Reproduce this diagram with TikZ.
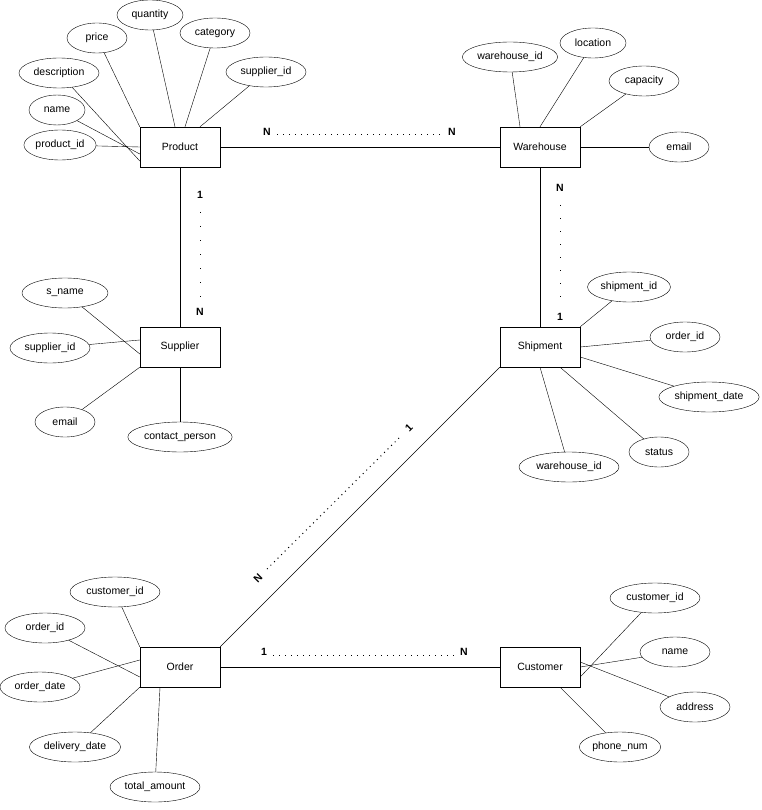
\documentclass[tikz,border=0pt]{standalone}
\usepackage{fontspec}
\setmainfont{Liberation Sans}
\usetikzlibrary{shapes.geometric}
\begin{document}
\begin{tikzpicture}[x=1pt,y=-1pt,font=\fontsize{10.5}{12}\selectfont,
 ent/.style={draw,fill=white,minimum width=80pt,minimum height=40pt,inner sep=0},
 att/.style={draw,ellipse,fill=white,minimum height=30pt,inner sep=1pt},
 card/.style={font=\fontsize{10.5}{12}\selectfont\bfseries},
 dots/.style={dotted,line width=1pt}]
\useasboundingbox (0,0) rectangle (761,810);
% entities
\node[ent] (P) at (180,147) {Product};
\node[ent] (W) at (540,147) {Warehouse};
\node[ent] (S) at (180,347) {Supplier};
\node[ent] (Sh) at (540,347) {Shipment};
\node[ent] (O) at (180,667) {Order};
\node[ent] (C) at (540,667) {Customer};
% relationships
\draw (P) -- (W);
\draw (P) -- (S);
\draw (W) -- (Sh);
\draw (Sh.south west) -- (O.north east);
\draw (O) -- (C);
% cardinalities
\node[card] (c1) at (267,132) {N}; \node[card] (c2) at (452,132) {N};
\coordinate (d1) at (277,135); \coordinate (d2) at (443,135);
\draw[dots,dash pattern=on 1pt off 5pt] (d1) -- (d2);
\node[card] (c3) at (200,195) {1}; \node[card] (c4) at (200,312) {N};
\coordinate (d3) at (200,212); \coordinate (d4) at (200,298);
\draw[dots,dash pattern=on 1pt off 13pt] (d3) -- (d4);
\node[card] (c5) at (560,188) {N}; \node[card] (c6) at (560,317) {1};
\coordinate (d5) at (560,205); \coordinate (d6) at (560,305);
\draw[dots,dash pattern=on 1pt off 12pt] (d5) -- (d6);
\node[card,rotate=45] (c7) at (258,578) {N}; \node[card,rotate=45] (c8) at (409,428) {1};
\coordinate (d7) at (267,569); \coordinate (d8) at (401,436);
\draw[dots,dash pattern=on 1pt off 4pt] (d7) -- (d8);
\node[card] (c9) at (264,652) {1}; \node[card] (c10) at (464,652) {N};
\coordinate (d9) at (273,655); \coordinate (d10) at (455,655);
\draw[dots,dash pattern=on 1pt off 5pt] (d9) -- (d10);
% Product attrs
\node[att,minimum width=70pt] (a1) at (60,145) {product\_id};
\node[att,minimum width=56pt] (a2) at (57,110) {name};
\node[att,minimum width=80pt] (a3) at (59,73) {description};
\node[att,minimum width=60pt] (a4) at (97,38) {price};
\node[att,minimum width=66pt] (a5) at (150,15) {quantity};
\node[att,minimum width=70pt] (a6) at (215,33) {category};
\node[att,minimum width=80pt] (a7) at (266,72) {supplier\_id};
\draw (a1) -- (P.west);
\draw (a2) -- ([yshift=-7pt]P.west);
\draw (a3) -- ([yshift=-14pt]P.west);
\draw (a4) -- (P.north west);
\draw (a5) -- ([xshift=-5pt]P.north);
\draw (a6) -- ([xshift=5pt]P.north);
\draw (a7) -- ([xshift=20pt]P.north);
% Warehouse attrs
\node[att,minimum width=80pt] (b1) at (510,57) {warehouse\_id};
\node[att,minimum width=66pt] (b2) at (593,43) {location};
\node[att,minimum width=70pt] (b3) at (644,81) {capacity};
\node[att,minimum width=60pt] (b4) at (679,147) {email};
\draw (b1) -- ([xshift=-20pt]W.north);
\draw (b2) -- (W.north);
\draw (b3) -- (W.north east);
\draw (b4) -- (W.east);
% Supplier attrs
\node[att,minimum width=86pt] (e1) at (65,293) {s\_name};
\node[att,minimum width=80pt] (e2) at (50,348) {supplier\_id};
\node[att,minimum width=60pt] (e3) at (65,422) {email};
\node[att,minimum width=100pt] (e4) at (180,437) {contact\_person};
\draw (e1) -- ([yshift=-7pt]S.west);
\draw (e2) -- ([yshift=7pt]S.west);
\draw (e3) -- (S.south west);
\draw (e4) -- (S.south);
% Shipment attrs
\node[att,minimum width=76pt] (f1) at (629,287) {shipment\_id};
\node[att,minimum width=70pt] (f2) at (685,337) {order\_id};
\node[att,minimum width=96pt] (f3) at (709,397) {shipment\_date};
\node[att,minimum width=60pt] (f4) at (659,452) {status};
\node[att,minimum width=100pt] (f5) at (569,467) {warehouse\_id};
\draw (f1) -- (Sh.north east);
\draw (f2) -- (Sh.east);
\draw (f3) -- ([yshift=-10pt]Sh.east);
\draw (f4) -- ([xshift=20pt]Sh.south);
\draw (f5) -- (Sh.south);
% Order attrs
\node[att,minimum width=90pt] (g1) at (115,592) {customer\_id};
\node[att,minimum width=80pt] (g2) at (45,628) {order\_id};
\node[att,minimum width=80pt] (g3) at (40,687) {order\_date};
\node[att,minimum width=90pt] (g4) at (75,747) {delivery\_date};
\node[att,minimum width=90pt] (g5) at (155,787) {total\_amount};
\draw (g1) -- (O.north west);
\draw (g2) -- ([yshift=-10pt]O.west);
\draw (g3) -- ([yshift=7pt]O.west);
\draw (g4) -- (O.south west);
\draw (g5) -- ([xshift=-20pt]O.south);
% Customer attrs
\node[att,minimum width=90pt] (h1) at (655,598) {customer\_id};
\node[att,minimum width=70pt] (h2) at (675,652) {name};
\node[att,minimum width=70pt] (h3) at (695,707) {address};
\node[att,minimum width=80pt] (h4) at (620,747) {phone\_num};
\draw (h1) -- ([yshift=-10pt]C.east);
\draw (h2) -- (C.east);
\draw (h3) -- ([yshift=5pt]C.east);
\draw (h4) -- ([xshift=20pt]C.south);
\end{tikzpicture}
\end{document}
